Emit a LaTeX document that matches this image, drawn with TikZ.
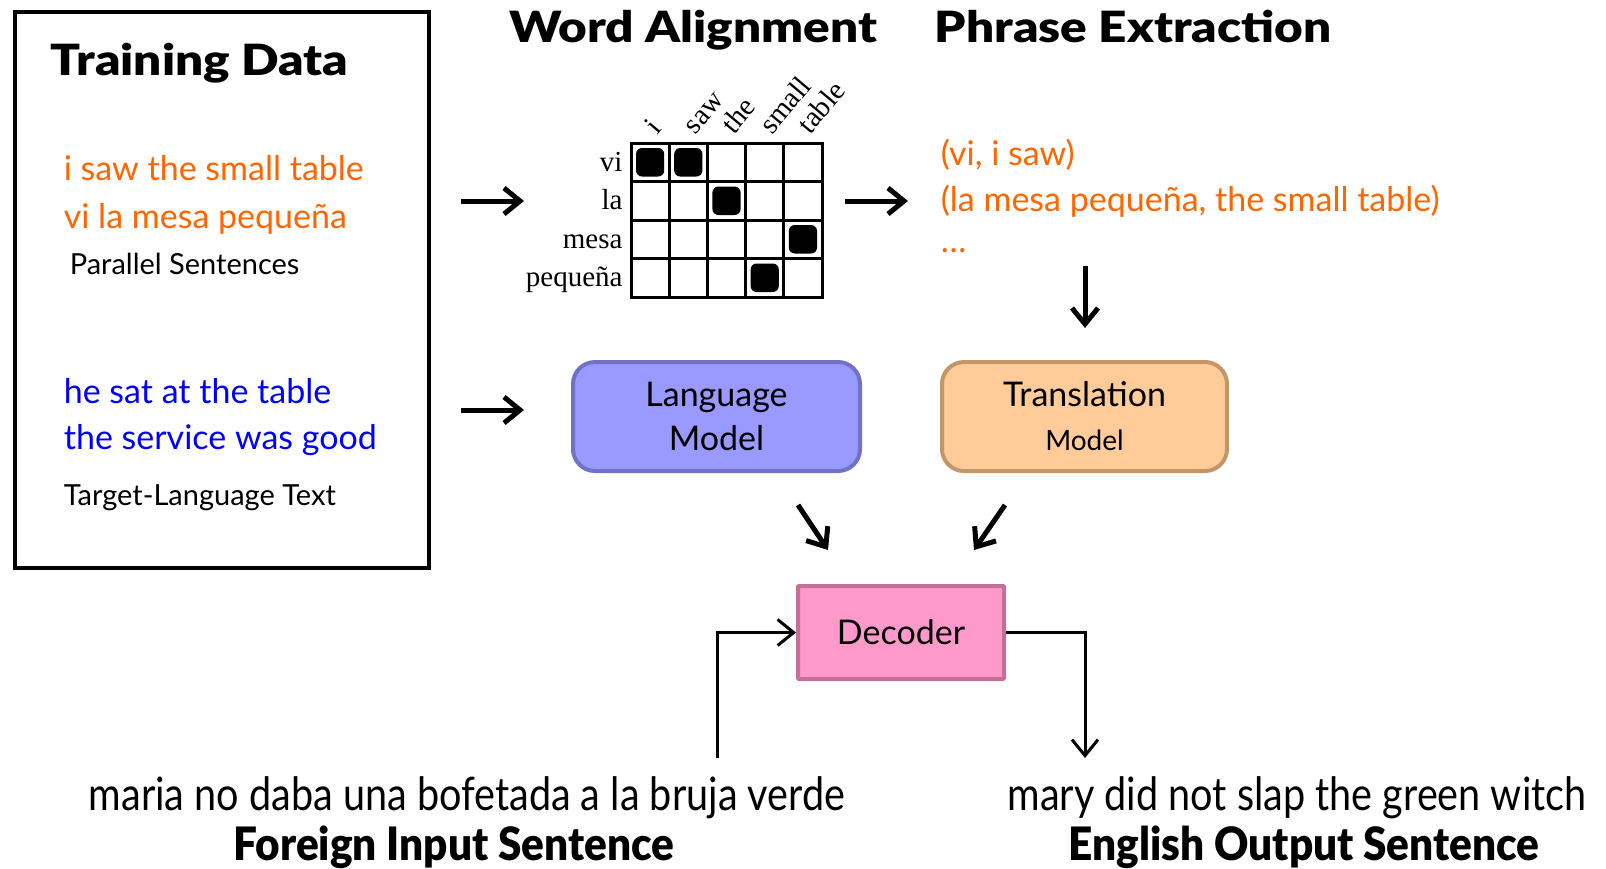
\documentclass[tikz,border=0pt]{standalone}
\usepackage{fontspec}
\setmainfont{Lato}
\newfontfamily\heavyfont[FakeStretch=1.15]{Lato Black}
\newfontfamily\gridfont{Liberation Serif}
\newfontfamily\narrowfont[FakeStretch=0.86]{Lato}
\newfontfamily\narrowheavy[FakeStretch=0.92]{Lato Black}
\usetikzlibrary{arrows.meta,calc,positioning}
\definecolor{myorange}{HTML}{FF6600}
\definecolor{myblue}{HTML}{0000FF}
\definecolor{lmfill}{HTML}{9999FF}
\definecolor{lmdraw}{HTML}{7272C2}
\definecolor{tmfill}{HTML}{FFCC99}
\definecolor{tmdraw}{HTML}{C29668}
\definecolor{decfill}{HTML}{FF99CC}
\definecolor{decdraw}{HTML}{C27095}

\tikzset{
  heading/.style={anchor=base, font=\heavyfont\fontsize{43pt}{43pt}\selectfont},
  corpus/.style={anchor=base west, font=\fontsize{34pt}{44pt}\selectfont},
  caption/.style={anchor=base west, font=\fontsize{29pt}{34pt}\selectfont},
  gridlabel/.style={font=\gridfont\fontsize{29pt}{29pt}\selectfont, inner sep=0pt},
  modelbox/.style={draw, line width=4pt, rounded corners=22pt, align=center,
    font=\fontsize{34pt}{44pt}\selectfont},
  sentence/.style={anchor=base, font=\narrowfont\fontsize{46pt}{46pt}\selectfont},
  sentlabel/.style={anchor=base, font=\narrowheavy\fontsize{46pt}{46pt}\selectfont},
}

\begin{document}
\begin{tikzpicture}[x=1pt, y=-1pt, >={Straight Barb[length=16pt, width=26pt]}, line width=5pt]
  \useasboundingbox (0,0) rectangle (1606,868);

  % training data
  \node [draw, line width=4pt, anchor=north west, inner sep=0pt,
    minimum width=414pt, minimum height=556pt, name=tdbox] at (13,10) {};
  \node [heading, anchor=base west, name=tdtitle] at (45,75) {Training Data};
  \node [corpus, text=myorange, name=en1] at (58,180) {i saw the small table};
  \node [corpus, text=myorange, name=fr1] at (58,228) {vi la mesa pequeña};
  \node [caption, name=parallel] at (64,274) {Parallel Sentences};
  \node [corpus, text=myblue, name=en2] at (58,403) {he sat at the table};
  \node [corpus, text=myblue, name=en3] at (58,449) {the service was good};
  \node [caption, name=target] at (58,505) {Target-Language Text};

  % word alignment grid
  \node [heading, name=wahead] at (693,42) {Word Alignment};
  \coordinate (gridnw) at (631,143);
  \foreach \c in {0,...,5}
    \draw [line width=3pt] ($(gridnw) + (38.2*\c,-1.5)$) -- ++(0,157);
  \foreach \r in {0,...,4}
    \draw [line width=3pt] ($(gridnw) + (-1.5,38.5*\r)$) -- ++(194,0);
  \foreach \r/\c in {0/0, 0/1, 1/2, 2/4, 3/3}
    \fill [rounded corners=6pt] ($(gridnw) + (38.2*\c+5,38.5*\r+5)$) rectangle ++(28.2,28.5);
  \foreach \w [count=\r from 0] in {vi,la,mesa,pequeña}
    \node [gridlabel, anchor=base east, name=f\r] at ($(gridnw) + (-6,38.5*\r+28)$) {\w};
  \foreach \w [count=\c from 0] in {i,saw,the,small,table}
    \node [gridlabel, anchor=base west, rotate=50, name=e\c] at ($(gridnw) + (38.2*\c+25,-6)$) {\w};

  % phrase extraction
  \node [heading, name=pehead] at (1133,42) {Phrase Extraction};
  \node [corpus, text=myorange, name=p1] at (935,165) {(vi, i saw)};
  \node [corpus, text=myorange, name=p2] at (935,211) {(la mesa pequeña, the small table)};
  \node [corpus, text=myorange, name=p3] at (935,252) {\ldots};

  % models
  \node [modelbox, fill=lmfill, draw=lmdraw, minimum width=287pt, minimum height=109pt,
    name=lm] at (716.5,416.5) {Language\\Model};
  \node [modelbox, fill=tmfill, draw=tmdraw, minimum width=285pt, minimum height=109pt,
    name=tm] at (1084.5,416.5) {Translation\\{\fontsize{28pt}{28pt}\selectfont Model}};
  \node [modelbox, rounded corners=1pt, fill=decfill, draw=decdraw, minimum width=206pt,
    minimum height=93pt, name=dec] at (901,632.5) {Decoder};

  % sentences
  \node [sentence, name=fsent] at (467,810) {maria no daba una bofetada a la bruja verde};
  \node [sentlabel, name=flabel] at (454,860) {Foreign Input Sentence};
  \node [sentence, name=esent] at (1297,810) {mary did not slap the green witch};
  \node [sentlabel, name=elabel] at (1304,860) {English Output Sentence};

  % arrows
  \coordinate (a1s) at (461,201);
  \coordinate (a1e) at (524,201);
  \coordinate (a2s) at (845,201);
  \coordinate (a2e) at (908,201);
  \coordinate (a3s) at (1085,266);
  \coordinate (a3e) at (1085,328);
  \coordinate (a4s) at (461,410);
  \coordinate (a4e) at (524,410);
  \coordinate (a5s) at (798,505);
  \coordinate (a5e) at (828,550);
  \coordinate (a6s) at (1005,505);
  \coordinate (a6e) at (974,550);
  \coordinate (inp) at (717,758);
  \coordinate (outp) at (1085,758);

  \draw [->] (a1s) -- (a1e);
  \draw [->] (a2s) -- (a2e);
  \draw [->] (a3s) -- (a3e);
  \draw [->] (a4s) -- (a4e);
  \draw [->] (a5s) -- (a5e);
  \draw [->] (a6s) -- (a6e);
  \draw [->, line width=3pt] (inp) |- (dec.west);
  \draw [->, line width=3pt] (dec.east) -| (outp);
\end{tikzpicture}
\end{document}
